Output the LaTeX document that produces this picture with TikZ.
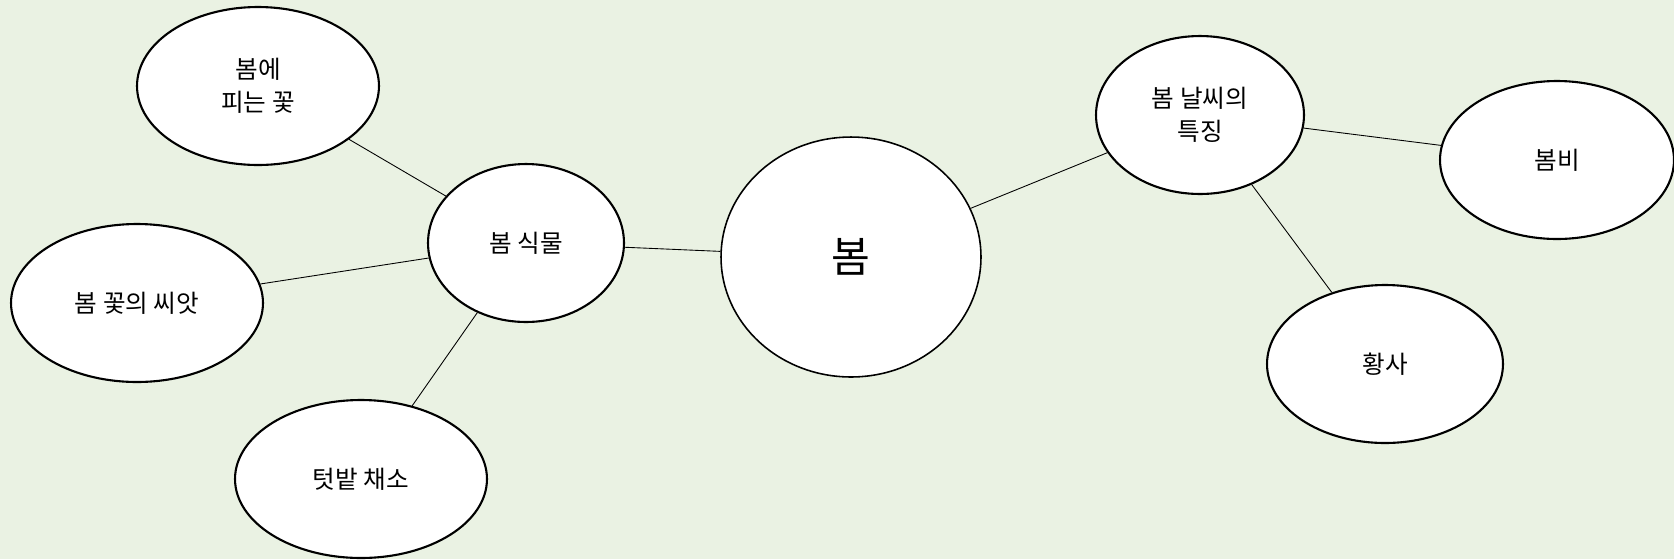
\documentclass[tikz,border=0pt]{standalone}
\usepackage{fontspec}
\setmainfont{Noto Sans CJK KR}
\usetikzlibrary{shapes.geometric}
\definecolor{bgmint}{HTML}{EAF2E3}
\tikzset{
  bubble/.style={
    ellipse,
    fill=white,
    draw=black, line width=1.2pt,
    inner sep=0pt,
    align=center,
    font=\fontsize{14}{18.5}\selectfont},
  hub/.style={
    bubble,
    line width=0.9pt,
    font=\fontsize{24}{26}\selectfont},
  line/.style={draw, line width=0.5pt},
}

\begin{document}
\begin{tikzpicture}[x=0.02cm, y=-0.02cm]
  % background and fixed frame
  \fill[bgmint] (0,0) rectangle (1674,559);
  \useasboundingbox (0,0) rectangle (1674,559);
  %% center
  \node (spring) [hub, minimum width=5.2cm, minimum height=4.8cm] at (851,257) {봄};
  %% left branch
  \node (plant) [bubble, minimum width=3.92cm, minimum height=3.16cm] at (526,243) {봄 식물};
  \node (flower) [bubble, minimum width=4.84cm, minimum height=3.16cm] at (258,86) {봄에\\피는 꽃};
  \node (seed) [bubble, minimum width=5.04cm, minimum height=3.16cm] at (137,303) {봄 꽃의 씨앗};
  \node (veggie) [bubble, minimum width=5.04cm, minimum height=3.16cm] at (361,479) {텃밭 채소};
  %% right branch
  \node (weather) [bubble, minimum width=4.16cm, minimum height=3.16cm] at (1200,115) {봄 날씨의\\특징};
  \node (rain) [bubble, minimum width=4.68cm, minimum height=3.16cm] at (1557,160) {봄비};
  \node (dust) [bubble, minimum width=4.72cm, minimum height=3.16cm] at (1385,364) {황사};
  % connectors
  \path[line] (plant) -- (spring);
  \path[line] (plant) -- (flower);
  \path[line] (plant) -- (seed);
  \path[line] (plant) -- (veggie);
  \path[line] (spring) -- (weather);
  \path[line] (weather) -- (rain);
  \path[line] (weather) -- (dust);
\end{tikzpicture}
\end{document}
